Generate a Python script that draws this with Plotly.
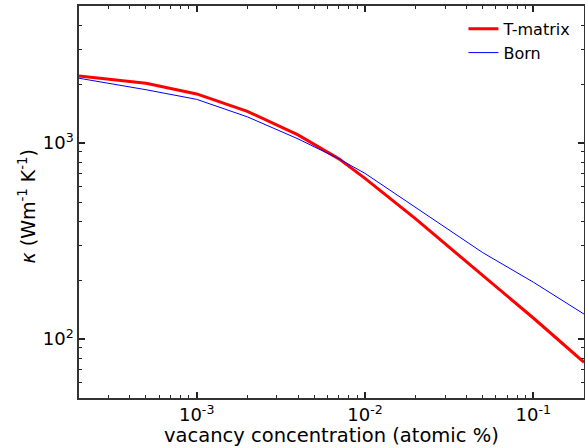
import plotly.graph_objects as go

conc = [2e-4, 5e-4, 1e-3, 2e-3, 4e-3, 7e-3, 1e-2, 2e-2, 5e-2, 1e-1, 2e-1]
kappa_tmatrix = [2200, 2020, 1780, 1450, 1100, 830, 660, 410, 211, 128, 76]
kappa_born = [2140, 1870, 1670, 1360, 1050, 830, 700, 470, 276, 195, 134]

x_major = [1e-3, 1e-2, 1e-1]
x_major_text = ["10<sup>-3</sup>", "10<sup>-2</sup>", "10<sup>-1</sup>"]
y_major = [1e2, 1e3]
y_major_text = ["10<sup>2</sup>", "10<sup>3</sup>"]

x_minor = [m * 10.0 ** e for e in range(-4, 0) for m in range(2, 10)]
y_minor = [m * 10.0 ** e for e in range(1, 4) for m in range(2, 10)]

x_title = "vacancy concentration (atomic %)"
y_title = "<i>κ</i> (Wm<sup>-1</sup> K<sup>-1</sup>)"

fig = go.Figure()
fig.add_trace(go.Scatter(x=conc, y=kappa_tmatrix, mode="lines", name="T-matrix",
                         line=dict(color="#ff0000", width=3)))
fig.add_trace(go.Scatter(x=conc, y=kappa_born, mode="lines", name="Born",
                         line=dict(color="#0000ff", width=1)))

axis_common = dict(
    showgrid=False, zeroline=False, showline=True, linecolor="#333333", linewidth=1.5,
    mirror="allticks", ticks="inside", ticklen=6, tickwidth=1.5, tickcolor="#222222",
    tickfont=dict(family="DejaVu Sans", size=18, color="#000000"),
    automargin=False,
)

fig.update_xaxes(type="log", range=[-3.699, -0.699], tickmode="array",
                 tickvals=x_major, ticktext=x_major_text,
                 minor=dict(tickmode="array", tickvals=x_minor, ticks="inside",
                            ticklen=3, tickwidth=1, tickcolor="#222222"),
                 **axis_common)
fig.update_yaxes(type="log", range=[1.699, 3.699], tickmode="array",
                 tickvals=y_major, ticktext=y_major_text,
                 minor=dict(tickmode="array", tickvals=y_minor, ticks="inside",
                            ticklen=3, tickwidth=1, tickcolor="#222222"),
                 **axis_common)

fig.add_annotation(text=x_title, xref="paper", yref="paper", x=0.5, y=-0.096,
                   xanchor="center", yanchor="middle", showarrow=False, borderpad=0,
                   font=dict(family="DejaVu Sans", size=19.5, color="#000000"))
fig.add_annotation(text=y_title, xref="paper", yref="paper", x=-0.104, y=0.49,
                   xanchor="center", yanchor="middle", showarrow=False, textangle=-90,
                   font=dict(family="DejaVu Sans", size=19, color="#000000"))

fig.update_layout(
    width=585, height=448,
    margin=dict(l=79, r=1, t=6, b=50),
    paper_bgcolor="white", plot_bgcolor="white",
    font=dict(family="DejaVu Sans", color="#000000"),
    legend=dict(x=0.985, y=0.985, xanchor="right", yanchor="top",
                bgcolor="rgba(0,0,0,0)", borderwidth=0, tracegroupgap=0,
                font=dict(family="DejaVu Sans", size=16, color="#000000")),
    showlegend=True,
)

fig.write_html("out.html", config={"displayModeBar": False},
               post_script="document.body.style.margin='0';document.body.style.padding='0';")
